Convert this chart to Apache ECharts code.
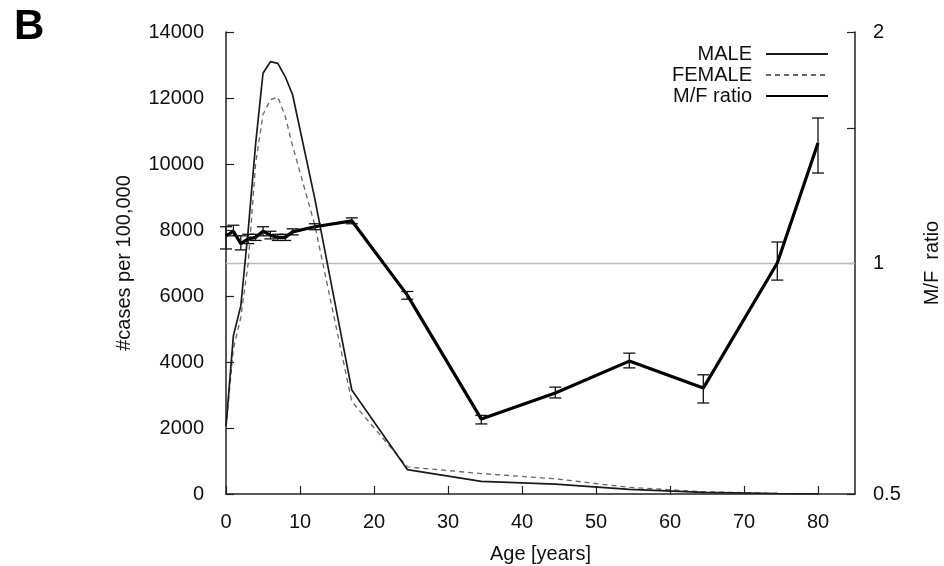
<!DOCTYPE html>
<html>
<head>
<meta charset="utf-8">
<script src="https://cdn.jsdelivr.net/npm/echarts@6/dist/echarts.min.js"></script>
<style>
  html, body { margin: 0; padding: 0; background: #fff; }
  #chart { width: 944px; height: 566px; }
</style>
</head>
<body>
<div id="chart"></div>
<script>
// age group centres (years)
const ages = [0, 1, 2, 3, 4, 5, 6, 7, 8, 9, 12, 17, 24.5, 34.5, 44.5, 54.5, 64.5, 74.5, 80];
// cases per 100,000
const male = [2050, 4800, 5700, 8000, 10600, 12750, 13100, 13050, 12650, 12100, 8950, 3150, 740, 380, 300, 140, 50, 15, 5];
const female = [2000, 4400, 5350, 7000, 10000, 11500, 11950, 12030, 11450, 10550, 8150, 2800, 820, 620, 460, 200, 70, 15, 4];
// M/F ratio with error bars
const ratio = [1.085, 1.10, 1.06, 1.075, 1.08, 1.10, 1.087, 1.08, 1.08, 1.098, 1.115, 1.135, 0.908, 0.626, 0.677, 0.745, 0.687, 1.0, 1.433];
const ratioLow = [1.043, 1.085, 1.04, 1.06, 1.07, 1.085, 1.075, 1.07, 1.07, 1.088, 1.105, 1.125, 0.897, 0.617, 0.667, 0.73, 0.657, 0.95, 1.31];
const ratioHigh = [1.115, 1.12, 1.085, 1.09, 1.09, 1.115, 1.10, 1.09, 1.09, 1.108, 1.125, 1.145, 0.918, 0.633, 0.689, 0.763, 0.715, 1.065, 1.545];

const leftTicks = { min: 0, max: 14000, interval: 2000 };
const rightTickValues = [0.5, 1, 1.5, 2];
const rightLabelValues = [0.5, 1, 2];

const FONT = 'Liberation Sans';

const myChart = echarts.init(document.getElementById('chart'));

const pair = (xs, ys) => xs.map((x, i) => [x, ys[i]]);

const option = {
  animation: false,
  textStyle: { fontFamily: FONT },
  title: {
    text: 'B',
    left: 9,
    top: 1,
    textStyle: { fontFamily: FONT, fontWeight: 'bold', fontSize: 42, color: '#000' }
  },
  grid: { left: 226, right: 89, top: 32, bottom: 72, outerBoundsMode: 'none' },
  legend: {
    orient: 'vertical',
    right: 110,
    top: 39,
    align: 'right',
    itemWidth: 62,
    itemHeight: 14,
    itemGap: 1,
    itemStyle: { opacity: 0 },
    textStyle: { fontFamily: FONT, fontSize: 20, color: '#111', padding: [0, 9, 0, 0] },
    data: ['MALE', 'FEMALE', 'M/F ratio']
  },
  xAxis: {
    type: 'value',
    min: 0,
    max: 85,
    interval: 10,
    name: 'Age [years]',
    nameLocation: 'middle',
    nameGap: 50,
    nameTextStyle: { fontFamily: FONT, fontSize: 20, color: '#111' },
    axisLine: { lineStyle: { color: '#222', width: 1.5 } },
    axisTick: { inside: true, length: 8, lineStyle: { color: '#222', width: 1.2 } },
    axisLabel: {
      fontFamily: FONT, fontSize: 20, color: '#111', margin: 18,
      showMaxLabel: false,
      formatter: v => (v % 10 === 0 ? String(v) : '')
    },
    splitLine: { show: false }
  },
  yAxis: [
    {
      type: 'value',
      min: leftTicks.min,
      max: leftTicks.max,
      interval: leftTicks.interval,
      name: '#cases per 100,000',
      nameLocation: 'middle',
      nameGap: 92,
      nameRotate: 90,
      nameTextStyle: { fontFamily: FONT, fontSize: 20, color: '#111' },
      axisLine: { show: true, lineStyle: { color: '#222', width: 1.5 } },
      axisTick: { show: true, inside: true, length: 8, lineStyle: { color: '#222', width: 1.2 } },
      axisLabel: { fontFamily: FONT, fontSize: 20, color: '#111', margin: 22, formatter: v => String(v) },
      splitLine: { show: false }
    },
    {
      type: 'log',
      logBase: 2,
      min: 0.5,
      max: 2,
      position: 'right',
      name: 'M/F  ratio',
      nameLocation: 'middle',
      nameGap: 67,
      nameRotate: 90,
      nameTextStyle: { fontFamily: FONT, fontSize: 20, color: '#111' },
      axisLine: { show: true, lineStyle: { color: '#222', width: 1.5 } },
      axisTick: { show: true, inside: true, length: 8, customValues: rightTickValues, lineStyle: { color: '#222', width: 1.2 } },
      axisLabel: { fontFamily: FONT, fontSize: 20, color: '#111', margin: 18, customValues: rightLabelValues },
      splitLine: { show: false }
    }
  ],
  series: [
    {
      name: 'MALE',
      type: 'line',
      yAxisIndex: 0,
      symbol: 'none',
      data: pair(ages, male),
      lineStyle: { color: '#1a1a1a', width: 1.7 },
      itemStyle: { color: '#1a1a1a' },
      z: 3
    },
    {
      name: 'FEMALE',
      type: 'line',
      yAxisIndex: 0,
      symbol: 'none',
      data: pair(ages, female),
      lineStyle: { color: '#666', width: 1.3, type: [5, 4] },
      itemStyle: { color: '#666' },
      z: 2
    },
    {
      name: 'M/F ratio',
      type: 'line',
      yAxisIndex: 1,
      symbol: 'none',
      data: pair(ages, ratio),
      lineStyle: { color: '#000', width: 3.2 },
      itemStyle: { color: '#000' },
      z: 5,
      markLine: {
        silent: true,
        symbol: 'none',
        label: { show: false },
        lineStyle: { color: '#bbb', width: 1.3, type: 'solid' },
        data: [{ yAxis: 1 }],
        z: 1
      }
    },
    {
      name: 'ratio error',
      type: 'custom',
      xAxisIndex: 0,
      yAxisIndex: 1,
      data: ages.map((a, i) => [a, ratioLow[i], ratioHigh[i]]),
      encode: { x: 0, y: [1, 2] },
      z: 6,
      renderItem: function (params, api) {
        const x = api.value(0);
        const lo = api.coord([x, api.value(1)]);
        const hi = api.coord([x, api.value(2)]);
        const w = 6;
        const st = { stroke: '#111', lineWidth: 1.3 };
        return {
          type: 'group',
          children: [
            { type: 'line', shape: { x1: lo[0], y1: lo[1], x2: hi[0], y2: hi[1] }, style: st },
            { type: 'line', shape: { x1: lo[0] - w, y1: lo[1], x2: lo[0] + w, y2: lo[1] }, style: st },
            { type: 'line', shape: { x1: hi[0] - w, y1: hi[1], x2: hi[0] + w, y2: hi[1] }, style: st }
          ]
        };
      }
    }
  ]
};

option && myChart.setOption(option);
</script>
</body>
</html>
